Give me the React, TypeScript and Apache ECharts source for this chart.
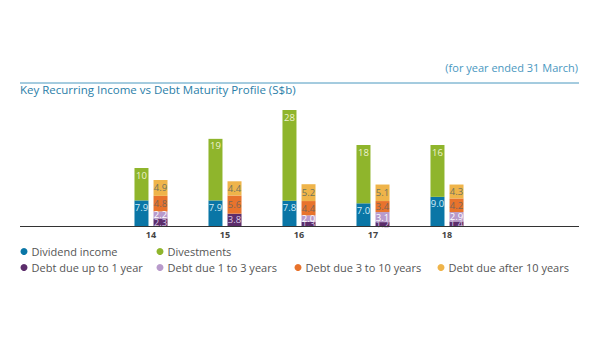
import React, { useEffect, useRef } from "react";
import * as echarts from "echarts";

const categories = ["14", "15", "16", "17", "18"];
const dividendIncome = [7.9, 7.9, 7.8, 7.0, 9.0];
const divestments = [10, 19, 28, 18, 16];
const debtUpTo1 = [2.3, 3.8, 1.3, 1.2, 1.4];
const debt1to3 = [2.2, null, 2.0, 3.1, 2.9];
const debt3to10 = [4.8, 5.6, 4.4, 3.4, 4.2];
const debtAfter10 = [4.9, 4.4, 5.2, 5.1, 4.3];

const FONT = "'Open Sans', 'Noto Sans', sans-serif";

export default function App() {
  const ref = useRef<HTMLDivElement>(null);
  useEffect(() => {
    document.body.style.margin = "0";
    if (!ref.current) return;
    const chart = echarts.init(ref.current, null, { renderer: "svg" });
    const lbl = (color: string, dec: number, pos: string, dist = 2) => ({
      show: true,
      position: pos as any,
      distance: dist,
      color,
      fontSize: 9.5,
      fontFamily: FONT,
      formatter: (p: any) => (p.value == null ? "" : Number(p.value).toFixed(dec)),
    });
    const legendItem = (name: string, dot: number, top: number) => ({
      data: [name],
      left: dot - 3.5,
      top,
      icon: "circle",
      itemWidth: 7,
      itemHeight: 7,
      padding: 0,
      selectedMode: false,
      textStyle: { color: "#555", fontSize: 11, fontFamily: FONT, padding: [0, 0, 0, -1] },
    });
    chart.setOption({
      animation: false,
      textStyle: { fontFamily: FONT },
      graphic: [
        {
          type: "text",
          right: 22,
          top: 62,
          style: { text: "(for year ended 31 March)", fill: "#4a98bf", fontSize: 11, fontFamily: FONT },
        },
        {
          type: "line",
          shape: { x1: 20, y1: 83, x2: 579, y2: 83 },
          style: { stroke: "#4a98bf", lineWidth: 1 },
        },
        {
          type: "text",
          left: 20,
          top: 83,
          style: { text: "Key Recurring Income vs Debt Maturity Profile (S$b)", fill: "#2a7ea8", fontSize: 11.5, fontFamily: FONT },
        },
        {
          type: "line",
          shape: { x1: 20, y1: 226.5, x2: 579, y2: 226.5 },
          style: { stroke: "#333", lineWidth: 1.2 },
          z: 10,
        },
      ],
      grid: { left: 114, right: 116, top: 96.4, bottom: 134 },
      xAxis: {
        type: "category",
        data: categories,
        axisLine: { show: false },
        axisTick: { show: false },
        axisLabel: { color: "#444", fontSize: 9, fontWeight: "bold", margin: 4, fontFamily: FONT },
      },
      yAxis: { type: "value", min: 0, max: 40, show: false, splitLine: { show: false } },
      legend: [
        legendItem("Dividend income", 24, 246),
        legendItem("Divestments", 160, 246),
        legendItem("Debt due up to 1 year", 24, 262),
        legendItem("Debt due 1 to 3 years", 160, 262),
        legendItem("Debt due 3 to 10 years", 298, 262),
        legendItem("Debt due after 10 years", 441, 262),
      ],
      series: [
        { name: "Dividend income", type: "bar", stack: "a", barWidth: 14, barGap: "36%", data: dividendIncome, itemStyle: { color: "#0a76a6" }, label: lbl("#d4ecf7", 1, "insideTop") },
        { name: "Divestments", type: "bar", stack: "a", data: divestments, itemStyle: { color: "#8fb52c" }, label: lbl("#eef2cf", 0, "insideTop") },
        { name: "Debt due up to 1 year", type: "bar", stack: "b", barWidth: 14, data: debtUpTo1, itemStyle: { color: "#5c2d6b" }, label: lbl("#d7c4e0", 1, "inside") },
        { name: "Debt due 1 to 3 years", type: "bar", stack: "b", data: debt1to3, itemStyle: { color: "#b89acb" }, label: lbl("#ffffff", 1, "inside") },
        { name: "Debt due 3 to 10 years", type: "bar", stack: "b", data: debt3to10, itemStyle: { color: "#e8732c" }, label: lbl("#7b6656", 1, "inside") },
        { name: "Debt due after 10 years", type: "bar", stack: "b", data: debtAfter10, itemStyle: { color: "#efb44a" }, label: lbl("#6e7560", 1, "inside") },
      ],
    });
    return () => chart.dispose();
  }, []);
  return <div ref={ref} style={{ width: 600, height: 360 }} />;
}
